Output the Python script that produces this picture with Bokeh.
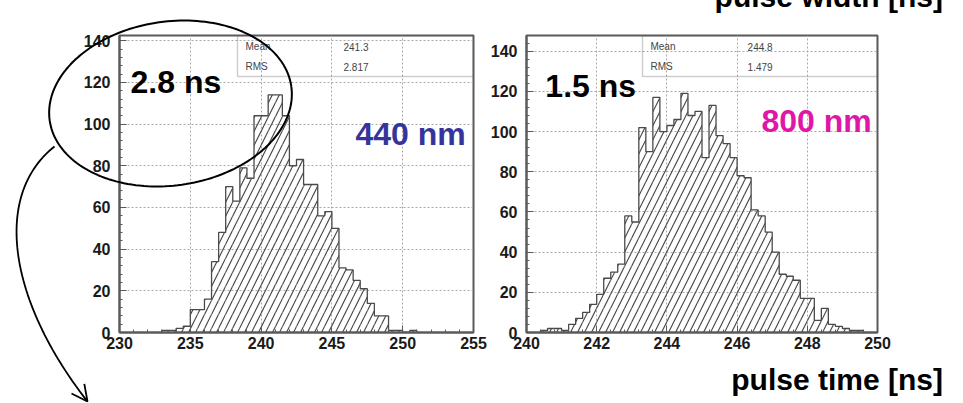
import numpy as np
from bokeh.plotting import figure
from bokeh.layouts import row
from bokeh.models import Label, BoxAnnotation, Range1d, SingleIntervalTicker
from bokeh.core.properties import value
from bokeh.embed import file_html
from bokeh.resources import INLINE

# ---------------- data ----------------
# 440 nm: pulse-time histogram, 0.5 ns bins
left_edges = [233.0, 233.5, 234.0, 234.5, 235.0, 235.5, 236.0, 236.5, 237.0, 237.5,
              238.0, 238.5, 239.0, 239.5, 240.0, 240.5, 241.0, 241.5, 242.0, 242.5,
              243.0, 243.5, 244.0, 244.5, 245.0, 245.5, 246.0, 246.5, 247.0, 247.5,
              248.0, 248.5, 249.0, 249.5, 250.0, 250.5, 251.0]
left_counts = [1, 1, 2, 3, 11, 11, 16, 34, 48, 70,
               63, 79, 74, 104, 104, 114, 114, 104, 80, 83,
               71, 71, 56, 58, 50, 31, 30, 25, 21, 14,
               8, 8, 1, 1, 0, 1]
left_mean, left_rms = "241.3", "2.817"

# 800 nm: pulse-time histogram, 0.2 ns bins
right_edges = [240.4, 240.6, 240.8, 241.0, 241.2, 241.4, 241.6, 241.8, 242.0, 242.2,
               242.4, 242.6, 242.8, 243.0, 243.2, 243.4, 243.6, 243.8, 244.0, 244.2,
               244.4, 244.6, 244.8, 245.0, 245.2, 245.4, 245.6, 245.8, 246.0, 246.2,
               246.4, 246.6, 246.8, 247.0, 247.2, 247.4, 247.6, 247.8, 248.0, 248.2,
               248.4, 248.6, 248.8, 249.0, 249.2, 249.4, 249.6]
right_counts = [1, 2, 2, 1, 4, 7, 10, 14, 19, 27,
                30, 34, 58, 55, 102, 90, 117, 100, 103, 106,
                119, 108, 110, 87, 113, 98, 94, 87, 78, 77,
                61, 58, 50, 40, 29, 28, 26, 17, 17, 6,
                12, 4, 3, 2, 1, 1]
right_mean, right_rms = "244.8", "1.479"

left_xrange = (230, 255)
right_xrange = (240, 250)
left_ymax = 142.5
right_ymax = 147.8

# ---------------- layout geometry (page pixels) ----------------
H = 403
LW = 487                 # left figure width
FR_TOP, FR_BOT = 35, 332
L_LEFT, L_RIGHT = 119, 473
R_LEFT, R_RIGHT = 523, 877
FONT = "Liberation Sans"
FRAME_COL = "#5a5a5a"
TXT_SHIFT = 12           # alphabetic baseline correction (px)


def make_fig(width, fl, fr, xr, ymax, xint):
    p = figure(width=width, height=H, x_range=Range1d(*xr), y_range=Range1d(0, ymax),
               output_backend="svg", toolbar_location=None,
               min_border_left=fl, min_border_right=width - fr,
               min_border_top=FR_TOP, min_border_bottom=H - FR_BOT)
    p.background_fill_color = "white"
    p.border_fill_color = "white"
    p.outline_line_color = FRAME_COL
    p.outline_line_width = 2
    p.xaxis.ticker = SingleIntervalTicker(interval=xint, num_minor_ticks=5)
    p.yaxis.ticker = SingleIntervalTicker(interval=20, num_minor_ticks=5)
    for ax in (p.xaxis[0], p.yaxis[0]):
        ax.axis_line_color = FRAME_COL
        ax.axis_line_width = 2
        ax.major_tick_in = 7
        ax.major_tick_out = 0
        ax.minor_tick_in = 3
        ax.minor_tick_out = 0
        ax.major_tick_line_color = FRAME_COL
        ax.minor_tick_line_color = FRAME_COL
        ax.major_label_text_font = FONT
        ax.major_label_text_font_style = "bold"
        ax.major_label_text_font_size = "16px"
        ax.major_label_text_color = "#1a1a1a"
    p.xaxis.major_label_standoff = 4
    p.yaxis.major_label_standoff = 9
    for g in (p.xgrid[0], p.ygrid[0]):
        g.grid_line_color = "#a8a8a8"
        g.grid_line_dash = "2 2"
        g.grid_line_width = 1
    return p


def add_hist(p, edges, counts):
    p.quad(left=edges[:-1], right=edges[1:], top=counts, bottom=0,
           fill_alpha=0, line_color=None,
           hatch_pattern="/", hatch_scale=14, hatch_color="#4a4a4a",
           hatch_weight=1.2)
    xs, ys = [edges[0]], [0]
    for i, c in enumerate(counts):
        xs += [edges[i], edges[i + 1]]
        ys += [c, c]
    xs.append(edges[-1])
    ys.append(0)
    p.line(xs, ys, line_color="#4a4a4a", line_width=1.3)


def mapper(fl, fr, xr, ymax):
    def f(cx, cy):
        x = xr[0] + (cx - fl) * (xr[1] - xr[0]) / (fr - fl)
        y = ymax * (FR_BOT - cy) / (FR_BOT - FR_TOP)
        return x, y
    return f


def lab(p, m, cx, cy, text, size, color="black", align="left", baseline="alphabetic",
        style="bold"):
    if baseline == "alphabetic":
        cy -= TXT_SHIFT
    x, y = m(cx, cy)
    p.add_layout(Label(x=x, y=y, text=text, text_font=FONT, text_font_size=size,
                       text_font_style=style, text_color=color, text_align=align,
                       text_baseline=baseline))


def free_text(p, m, cx, cy, text, size, align="right"):
    x, y = m(cx, cy - TXT_SHIFT)
    r = p.text(x=[x], y=[y], text=[text], text_font=value(FONT), text_font_size=size,
               text_font_style="bold", text_color="black", text_align=align,
               text_baseline="alphabetic")
    r.level = "overlay"


def stats_box(p, m, bl, br, mean, rms):
    x0, y0 = m(bl, FR_TOP)
    x1, y1 = m(br, 76)
    p.add_layout(BoxAnnotation(left=x0, right=x1, top=y0, bottom=y1, fill_alpha=0,
                               line_color="#5e5e5e", line_width=1.5))
    lab(p, m, bl + 8, 46, "Mean", "10px", "#444", baseline="middle", style="normal")
    lab(p, m, bl + 106, 46, mean, "10px", "#444", baseline="middle", style="normal")
    lab(p, m, bl + 8, 66, "RMS", "10px", "#444", baseline="middle", style="normal")
    lab(p, m, bl + 106, 66, rms, "10px", "#444", baseline="middle", style="normal")


# ---------------- left panel ----------------
p1 = make_fig(LW, L_LEFT, L_RIGHT, left_xrange, left_ymax, 5)
add_hist(p1, left_edges, left_counts)
m1 = mapper(L_LEFT, L_RIGHT, left_xrange, left_ymax)
stats_box(p1, m1, 237, L_RIGHT, left_mean, left_rms)
lab(p1, m1, 130, 93, "2.8 ns", "32px")
lab(p1, m1, 355, 145, "440 nm", "32px", color="#34349c")

# ellipse callout (page pixels -> left data coordinates)
t = np.linspace(0, 2 * np.pi, 181)
th = np.deg2rad(8)
ea, eb, ecx, ecy = 122, 82, 170, 103
ex, ey = ea * np.cos(t), eb * np.sin(t)
px = ecx + ex * np.cos(th) + ey * np.sin(th)
py = ecy - ex * np.sin(th) + ey * np.cos(th)
exs, eys = zip(*[m1(a, b) for a, b in zip(px, py)])
r = p1.line(list(exs), list(eys), line_color="black", line_width=2)
r.level = "overlay"

# curved arrow
P = np.array([[54, 146], [-8, 195], [8, 300], [87, 401]], dtype=float)
tt = np.linspace(0, 1, 60)
bz = ((1 - tt) ** 3)[:, None] * P[0] + (3 * (1 - tt) ** 2 * tt)[:, None] * P[1] \
     + (3 * (1 - tt) * tt ** 2)[:, None] * P[2] + (tt ** 3)[:, None] * P[3]
cxs, cys = zip(*[m1(a, b) for a, b in bz])
r = p1.line(list(cxs), list(cys), line_color="black", line_width=1.8)
r.level = "overlay"
# open arrow head at the end of the curve
tip = bz[-1]
d = bz[-1] - bz[-4]
d = d / np.hypot(*d)
nrm = np.array([-d[1], d[0]])
hl, hw = 16, 8
b1 = tip - hl * d + hw * nrm
b2 = tip - hl * d - hw * nrm
hx, hy = zip(*[m1(*q) for q in (b1, tip, b2)])
r = p1.line(list(hx), list(hy), line_color="black", line_width=1.8)
r.level = "overlay"

# ---------------- right panel ----------------
RW = 963 - LW
p2 = make_fig(RW, R_LEFT - LW, R_RIGHT - LW, right_xrange, right_ymax, 2)
add_hist(p2, right_edges, right_counts)
m2 = mapper(R_LEFT, R_RIGHT, right_xrange, right_ymax)
stats_box(p2, m2, 640, R_RIGHT, right_mean, right_rms)
lab(p2, m2, 542, 97, "1.5 ns", "32px")
lab(p2, m2, 760, 132, "800 nm", "32px", color="#e016a8")
free_text(p2, m2, 943, 391, "pulse time [ns]", "30px")
free_text(p2, m2, 943, 8, "pulse width [ns]", "30px")

layout = row(p1, p2)
open("out.html", "w").write(file_html(layout, INLINE))
